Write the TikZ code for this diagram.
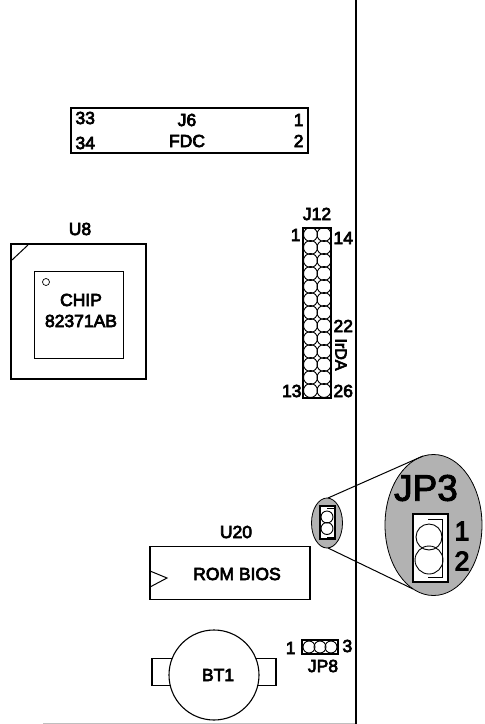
\documentclass[tikz,border=0pt]{standalone}
\usepackage{fontspec}
\setmainfont[FakeBold=2.5]{Liberation Sans}
\newfontfamily\boardfont[FakeBold=4]{Liberation Sans}
\usetikzlibrary{shapes.geometric}
\tikzset{
	lbl/.style={inner sep=0pt,font=\boardfont\fontsize{17.5}{17.5}\selectfont},
	pin/.style={draw,circle,minimum size=14pt,inner sep=0pt,line width=0.9pt},
	body/.style={draw,line width=1.2pt},
}
\begin{document}
\begin{tikzpicture}[x=1pt,y=-1pt,line width=1pt]
	\useasboundingbox (0,0) rectangle (485,724);

	%Board edge
	\coordinate (edgeT) at (356,0);
	\coordinate (edgeB) at (356,724);
	\coordinate (baseL) at (43,723);
	\coordinate (baseR) at (356,723);
	\draw[line width=1pt,gray!50] (baseL) -- (baseR);
	\draw[line width=1.1pt] (edgeT) -- (edgeB);

	%J6
	\node[body,minimum width=237pt,minimum height=45pt,inner sep=0pt] (j6) at (189.5,130.5) {};
	\node[lbl] (j6a) at (75,118) [anchor=west] {33};
	\node[lbl] (j6b) at (75,143) [anchor=west] {34};
	\node[lbl] (j6c) at (304,120) [anchor=east] {1};
	\node[lbl] (j6d) at (304,141) [anchor=east] {2};
	\node[lbl] (j6e) at (187,120) {J6};
	\node[lbl] (j6f) at (187,141) {FDC};

	%U8
	\node[body,minimum width=135pt,minimum height=135pt,inner sep=0pt] (u8) at (78.5,311.5) {};
	\node[draw,line width=0.8pt,minimum width=89pt,minimum height=87pt,inner sep=0pt] (u8in) at (78.5,314.5) {};
	\node[draw,circle,minimum size=7pt,inner sep=0pt,line width=0.7pt] (u8dot) at (46,282) {};
	\coordinate (u8a) at (12,260);
	\coordinate (u8b) at (28,245);
	\draw (u8a) -- (u8b);
	\node[lbl] (u8lbl) at (80,229) {U8};
	\node[lbl] (u8c) at (81,300) {CHIP};
	\node[lbl] (u8d) at (81,321) {82371AB};

	%J12
	\node[body,minimum width=28pt,minimum height=170pt,inner sep=0pt] (j12) at (317,313) {};
	\foreach \r in {0,...,12}
	{
		\node[pin] (pa\r) at (310.5,{234.5+13*\r}) {};
		\node[pin] (pb\r) at (324,{234.5+13*\r}) {};
	}
	\node[lbl] (j12lbl) at (317,214) {J12};
	\node[lbl,anchor=east] (j12a) at (301,235) {1};
	\node[lbl,anchor=west] (j12b) at (333,238) {14};
	\node[lbl,anchor=west] (j12c) at (333,326) {22};
	\node[lbl,anchor=east] (j12d) at (302,391) {13};
	\node[lbl,anchor=west] (j12e) at (333,391) {26};
	\node[lbl,rotate=-90,font=\boardfont\fontsize{16}{16}\selectfont] (j12f) at (341,354.5) {IrDA};

	%JP3
	\node[draw,ellipse,fill=gray!60,minimum width=31pt,minimum height=50pt,inner sep=0pt,line width=0.8pt] (small) at (327,523) {};
	\node[draw,ellipse,fill=gray!60,minimum width=97pt,minimum height=141pt,inner sep=0pt,line width=0.8pt] (big) at (433.5,525) {};
	\coordinate (lineA) at (328,498);
	\coordinate (lineB) at (423,456);
	\coordinate (lineC) at (328,548);
	\coordinate (lineD) at (413,589);
	\draw (lineA) -- (lineB);
	\draw (lineC) -- (lineD);
	\node[draw,line width=1.3pt,fill=white,minimum width=15pt,minimum height=33pt,inner sep=0pt] (smallbox) at (327.5,522.5) {};
	\coordinate (subA) at (327,508);
	\coordinate (subB) at (334,508);
	\coordinate (subC) at (334,537);
	\coordinate (subD) at (327,537);
	\draw[line width=0.5pt] (subA) -- (subB) -- (subC) -- (subD);
	\node[pin,minimum size=12pt] (smalla) at (327,517) {};
	\node[pin,minimum size=12pt] (smallb) at (327,528.5) {};
	\node[body,fill=white,minimum width=35pt,minimum height=68pt,inner sep=0pt] (bigbox) at (430.5,548) {};
	\coordinate (brA) at (428,519);
	\coordinate (brB) at (442,519);
	\coordinate (brC) at (442,577);
	\coordinate (brD) at (428,577);
	\draw[line width=0.7pt] (brA) -- (brB) -- (brC) -- (brD);
	\node[pin,minimum size=26pt] (biga) at (429,537) {};
	\node[pin,minimum size=28pt] (bigb) at (429,560) {};
	\node[font=\fontsize{37}{37}\selectfont,inner sep=0pt] (jp3lbl) at (426,488) {JP3};
	\node[font=\boardfont\fontsize{27}{27}\selectfont,inner sep=0pt] (jp3a) at (462,531) {1};
	\node[font=\boardfont\fontsize{27}{27}\selectfont,inner sep=0pt] (jp3b) at (462,561) {2};

	%U20
	\node[body,minimum width=160pt,minimum height=53pt,inner sep=0pt] (u20) at (230,573) {};
	\coordinate (noteA) at (150,571);
	\coordinate (noteB) at (167,578);
	\coordinate (noteC) at (150,587);
	\draw (noteA) -- (noteB) -- (noteC);
	\node[lbl] (u20lbl) at (236,532) {U20};
	\node[lbl] (u20a) at (237,574) {ROM BIOS};

	%BT1
	\node[body,minimum width=26pt,minimum height=27pt,inner sep=0pt] (bta) at (165,672) {};
	\node[body,minimum width=26pt,minimum height=27pt,inner sep=0pt] (btb) at (263,672) {};
	\node[draw,circle,fill=white,minimum size=90pt,inner sep=0pt,line width=1.1pt] (bt) at (214,675) {};
	\node[lbl] (btlbl) at (218,675) {BT1};

	%JP8
	\node[draw,line width=1.3pt,minimum width=36pt,minimum height=14pt,inner sep=0pt] (jp8) at (320,647) {};
	\foreach \c in {0,1,2}
		\node[pin,minimum size=12pt] (jp\c) at ({309+11*\c},647) {};
	\node[lbl,anchor=east] (jp8a) at (296,648) {1};
	\node[lbl,anchor=west] (jp8b) at (342,646) {3};
	\node[lbl] (jp8c) at (323,666) {JP8};
\end{tikzpicture}
\end{document}
